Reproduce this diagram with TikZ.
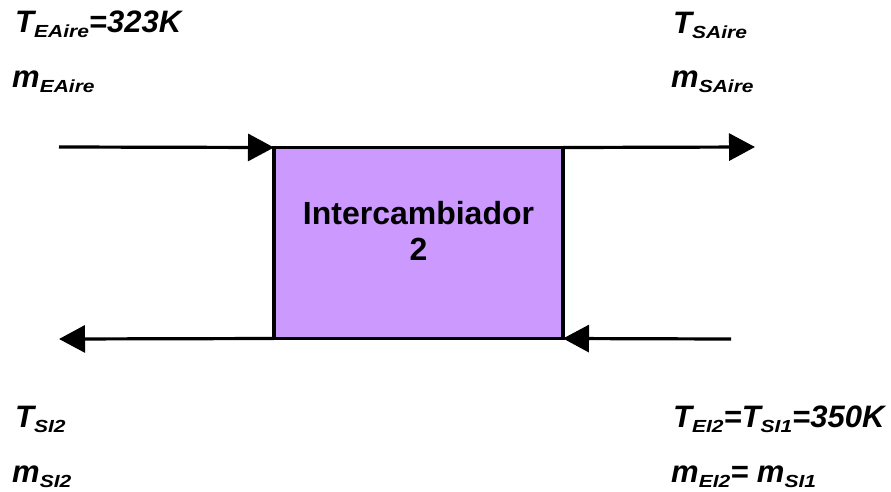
\documentclass[tikz,border=0pt]{standalone}
\usepackage{fontspec}
\usepackage{graphicx}
\setmainfont{Liberation Sans}
\usetikzlibrary{arrows.meta}

% subscript: smaller, slightly widened, dropped below the baseline
\newcommand\sbs[1]{\raisebox{-5pt}{\fontsize{17.5}{18}\selectfont\scalebox{1.2}[1]{#1}}}

\definecolor{boxfill}{HTML}{CC99FF}

\tikzset{
  flow/.style={line width=3.2pt, -{Triangle[length=26pt,width=27pt]}},
  exbox/.style={draw=black, fill=boxfill, line width=3.2pt, inner sep=0pt, outer sep=0pt,
    minimum width=289pt, minimum height=191pt},
  boxtext/.style={font=\fontsize{32}{36}\selectfont\bfseries, align=center, inner sep=0pt},
  var/.style={font=\fontsize{31}{36}\selectfont\bfseries\itshape, anchor=base west, inner sep=0pt}
}

\begin{document}
\begin{tikzpicture}[x=1pt,y=-1pt]
  \useasboundingbox (0,0) rectangle (891,491);

  % heat exchanger
  \node[exbox] (hx) at (418.5,243) {};
  \node[boxtext] (hxlabel) at (418.5,231) {Intercambiador\\2};

  % free ends of the streams
  \coordinate (airIn)  at (59,147);
  \coordinate (airOut) at (755,147);
  \coordinate (hotIn)  at (731,339);
  \coordinate (hotOut) at (59,339);

  \draw[flow] (airIn) -- (hx.north west);
  \draw[flow] (hx.north east) -- (airOut);
  \draw[flow] (hotIn) -- (hx.south east);
  \draw[flow] (hx.south west) -- (hotOut);

  % stream variables
  \node[var] (tea) at (15,32)  {T\sbs{EAire}=323K};
  \node[var] (mea) at (12,87)  {m\sbs{EAire}};
  \node[var] (tsa) at (673,33) {T\sbs{SAire}};
  \node[var] (msa) at (671,87) {m\sbs{SAire}};
  \node[var] (tsi) at (15,427) {T\sbs{SI2}};
  \node[var] (msi) at (12,482) {m\sbs{SI2}};
  \node[var] (tei) at (673,427) {T\sbs{EI2}=T\sbs{SI1}=350K};
  \node[var] (mei) at (671,482) {m\sbs{EI2}= m\sbs{SI1}};
\end{tikzpicture}
\end{document}
